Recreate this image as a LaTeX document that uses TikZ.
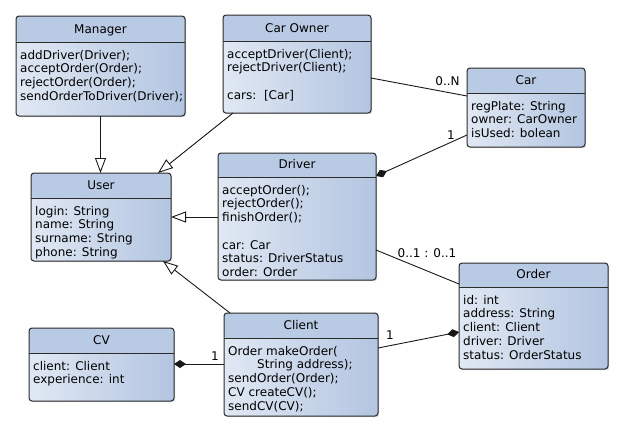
\documentclass[tikz,border=0pt]{standalone}
\usepackage{fontspec}
\setmainfont{DejaVu Sans}
\usetikzlibrary{arrows.meta,shadows}
\definecolor{hdrcol}{HTML}{B9CAE4}
\definecolor{bodyL}{HTML}{E0E8F3}
\definecolor{bodyR}{HTML}{B3C5E1}
\definecolor{edgecol}{HTML}{2B2B2B}
\tikzset{
  classbox/.style={draw=edgecol, line width=1pt, rounded corners=3pt, inner sep=0pt, outer sep=0pt,
    left color=bodyL, right color=bodyR,
    drop shadow={shadow xshift=1.2pt, shadow yshift=-1.2pt, opacity=0.3}},
  sepline/.style={draw=edgecol, line width=1pt},
  ctitle/.style={anchor=base, inner sep=0pt},
  cbody/.style={anchor=north west, align=left, inner sep=0pt},
  assoc/.style={draw=black!90, line width=0.9pt},
  inherit/.style={assoc, -{Triangle[open, length=15pt, width=11pt, line width=0.9pt]}},
  compos/.style={assoc, {Diamond[length=12pt, width=8pt]}-},
  mult/.style={inner sep=0pt, anchor=base}
}
\newcommand\umlclass[8]{%
  \node[classbox, minimum width={#4-#2}, minimum height={#5-#3}, anchor=north west,
    path picture={\fill[hdrcol] (path picture bounding box.north west) rectangle ([yshift=-#6pt]path picture bounding box.north east);}]
    (#1) at (#2,#3) {};
  \draw[sepline] ([yshift=-#6pt]#1.north west) -- ([yshift=-#6pt]#1.north east);
  \node[ctitle] (#1-t) at ([yshift={8.5pt-#6pt}]#1.north) {#7};
  \node[cbody] (#1-b) at ([xshift=4pt, yshift={-#6pt-7pt}]#1.north west) {\rule{0pt}{10pt}#8};
}
\begin{document}
\begin{tikzpicture}[x=1pt, y=-1pt, font=\fontsize{12}{13.7}\selectfont]
\fill[white] (0,0) rectangle (623,432);
\useasboundingbox (0,0) rectangle (623,432);

\umlclass{mgr}{16}{16}{185}{116}{26}{Manager}{addDriver(Driver);\\acceptOrder(Order);\\rejectOrder(Order);\\sendOrderToDriver(Driver);}
\umlclass{cown}{223}{15}{371}{113}{26}{Car Owner}{acceptDriver(Client);\\rejectDriver(Client);\\[13.7pt]cars:\ \ [Car]}
\umlclass{car}{467}{68}{585}{147}{25}{Car}{regPlate: String\\owner: CarOwner\\isUsed: bolean}
\umlclass{user}{31}{173}{171}{261}{25}{User}{login: String\\name: String\\surname: String\\phone: String}
\umlclass{drv}{218}{153}{376}{280}{24}{Driver}{acceptOrder();\\rejectOrder();\\finishOrder();\\[13.7pt]car: Car\\status: DriverStatus\\order: Order}
\umlclass{ord}{459}{263}{608}{369}{24}{Order}{id: int\\address: String\\client: Client\\driver: Driver\\status: OrderStatus}
\umlclass{cv}{29}{328}{174}{401}{25}{CV}{client: Client\\experience: int}
\umlclass{cli}{224}{313}{378}{416}{25}{Client}{Order makeOrder(\\\hspace*{29pt}String address);\\sendOrder(Order);\\CV createCV();\\sendCV(CV);}

% generalisations
\draw[inherit] (mgr.south) -- (mgr.south |- user.north);
\draw[inherit] ([xshift=10pt]cown.south west) -- ([xshift=-13pt]user.north east);
\draw[inherit] (drv.west |- user.east) -- (user.east);
\draw[inherit] ([xshift=6pt]cli.north west) -- ([xshift=-8pt]user.south east);

% associations
\draw[assoc] ([yshift=-63pt]cown.north east) -- ([yshift=-28pt]car.north west);
\node[mult] (m1) at (447.5,85) {0..N};
\draw[compos] ([yshift=-23pt]drv.north east) -- ([yshift=-67pt]car.north west);
\node[mult] (m2) at (451,139) {1};
\draw[assoc] ([yshift=-97pt]drv.north east) -- ([yshift=-21pt]ord.north west);
\node[mult] (m3) at (427,257) {0..1 : 0..1};
\draw[compos] ([yshift=-69pt]ord.north west) -- ([yshift=-35pt]cli.north east);
\node[mult] (m4) at (390,339) {1};
\draw[compos] ([yshift=-36pt]cv.north east) -- ([yshift=-51pt]cli.north west);
\node[mult] (m5) at (215,360) {1};
\end{tikzpicture}
\end{document}
